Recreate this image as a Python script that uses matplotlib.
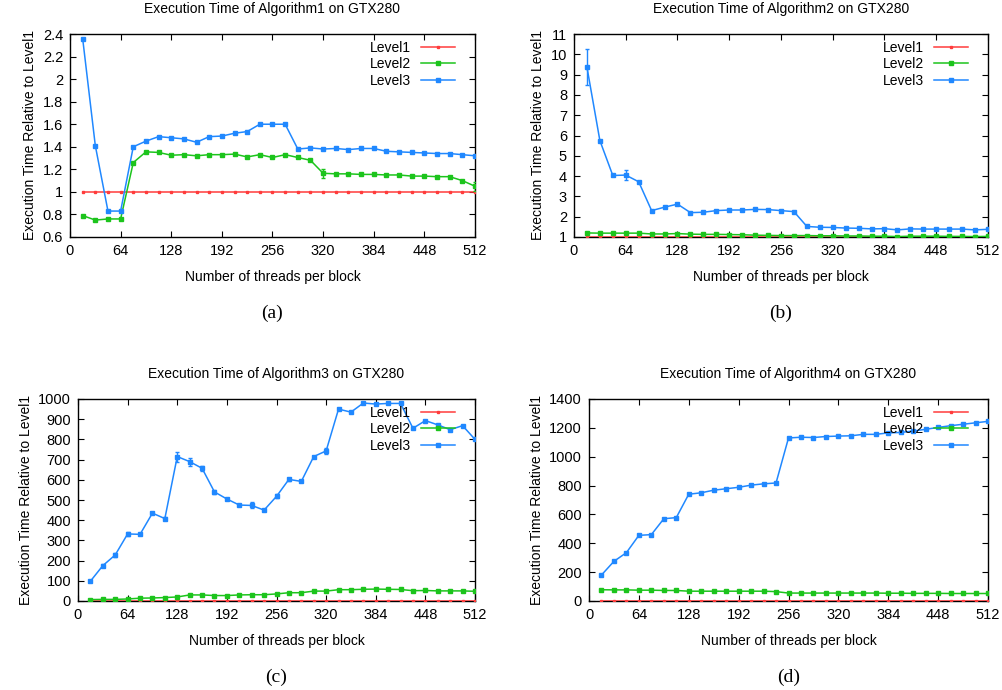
import numpy as np
import matplotlib
matplotlib.use("Agg")
import matplotlib.pyplot as plt

threads = list(range(16, 513, 16))

# Algorithm 1
a1_l1 = [1.0] * 32
a1_l2 = [0.79, 0.75, 0.76, 0.76, 1.26, 1.355, 1.35, 1.325, 1.33, 1.32, 1.33, 1.33,
         1.335, 1.31, 1.33, 1.305, 1.33, 1.305, 1.28, 1.165, 1.16, 1.16, 1.155, 1.155,
         1.15, 1.15, 1.14, 1.14, 1.135, 1.135, 1.10, 1.05]
a1_l3 = [2.36, 1.41, 0.83, 0.83, 1.40, 1.45, 1.49, 1.48, 1.47, 1.44, 1.49, 1.495,
         1.52, 1.535, 1.60, 1.60, 1.60, 1.38, 1.39, 1.38, 1.385, 1.375, 1.385, 1.385,
         1.36, 1.355, 1.35, 1.345, 1.34, 1.34, 1.33, 1.32]
a1_l2_err = [0] * 19 + [0.04] + [0] * 11 + [0.04]
a1_l3_err = [0] * 32

# Algorithm 2
a2_l1 = [1.0] * 32
a2_l2 = [1.2, 1.19, 1.19, 1.19, 1.19, 1.15, 1.15, 1.17, 1.14, 1.13, 1.13, 1.12,
         1.11, 1.09, 1.08, 1.07, 1.07, 1.07, 1.06, 1.06, 1.05, 1.05, 1.04, 1.04,
         1.02, 1.04, 1.04, 1.04, 1.03, 1.03, 1.02, 1.03]
a2_l3 = [9.37, 5.75, 4.03, 4.05, 3.72, 2.3, 2.47, 2.62, 2.2, 2.22, 2.3, 2.33,
         2.33, 2.36, 2.35, 2.3, 2.25, 1.52, 1.48, 1.47, 1.44, 1.43, 1.4, 1.41,
         1.35, 1.4, 1.39, 1.39, 1.39, 1.39, 1.35, 1.38]
a2_l2_err = [0] * 27 + [0.08] + [0] * 2 + [0.1] + [0]
a2_l3_err = [0.9, 0, 0, 0.25] + [0] * 28

# Algorithm 3
a3_l1 = [1.0] * 32
a3_l2 = [7, 8, 8, 10, 14, 15, 17, 20, 30, 30, 27, 27, 30, 31, 31, 35, 41, 41,
         49, 49, 56, 56, 58, 59, 58, 57, 51, 52, 50, 50, 50, 48]
a3_l3 = [98, 175, 228, 332, 330, 435, 408, 715, 690, 657, 540, 505, 475, 473,
         450, 518, 602, 592, 715, 743, 950, 935, 980, 975, 978, 978, 855, 893,
         872, 848, 868, 800]
a3_l2_err = [0] * 32
a3_l3_err = [0, 8, 8, 12, 0, 5, 8, 25, 20, 12, 10, 5, 0, 15, 0, 10, 8, 0, 0, 15,
             0, 0, 0, 0, 0, 0, 0, 0, 0, 0, 0, 0]

# Algorithm 4
a4_l1 = [1.0] * 32
a4_l2 = [78, 77, 77, 75, 75, 73, 73, 68, 68, 68, 68, 68, 68, 68, 65, 55, 55, 55,
         55, 55, 55, 55, 55, 54, 54, 53, 53, 53, 52, 52, 52, 52]
a4_l3 = [180, 275, 335, 455, 460, 570, 578, 740, 750, 768, 778, 788, 803, 812,
         818, 1130, 1135, 1133, 1140, 1143, 1145, 1155, 1155, 1165, 1168, 1178,
         1190, 1203, 1215, 1225, 1235, 1245]
a4_l2_err = [0] * 32
a4_l3_err = [0] * 32

titles = ["Execution Time of Algorithm1 on GTX280",
          "Execution Time of Algorithm2 on GTX280",
          "Execution Time of Algorithm3 on GTX280",
          "Execution Time of Algorithm4 on GTX280"]
captions = ["(a)", "(b)", "(c)", "(d)"]
xticks = [0, 64, 128, 192, 256, 320, 384, 448, 512]
yticks = [
    [0.6, 0.8, 1, 1.2, 1.4, 1.6, 1.8, 2, 2.2, 2.4],
    list(range(1, 12)),
    list(range(0, 1001, 100)),
    list(range(0, 1401, 200)),
]
ylims = [(0.6, 2.4), (1, 11), (0, 1000), (0, 1400)]
ytick_labels = [
    ["0.6", "0.8", "1", "1.2", "1.4", "1.6", "1.8", "2", "2.2", "2.4"],
    [str(v) for v in range(1, 12)],
    [str(v) for v in range(0, 1001, 100)],
    [str(v) for v in range(0, 1401, 200)],
]

data = [
    (a1_l1, a1_l2, a1_l3, a1_l2_err, a1_l3_err),
    (a2_l1, a2_l2, a2_l3, a2_l2_err, a2_l3_err),
    (a3_l1, a3_l2, a3_l3, a3_l2_err, a3_l3_err),
    (a4_l1, a4_l2, a4_l3, a4_l2_err, a4_l3_err),
]

W, H = 1003, 690
fig = plt.figure(figsize=(W / 100, H / 100), dpi=100)
plt.rcParams['font.family'] = ['Liberation Sans', 'DejaVu Sans']

# axes boxes in pixels: left, top, right, bottom
boxes = [(70, 34, 475, 237), (574, 34, 988, 237),
         (78, 399, 475, 601), (589, 399, 988, 601)]

red = '#ff3c3c'
green = '#1cc41c'
blue = '#2088ff'

for i, (box, d) in enumerate(zip(boxes, data)):
    l, t, r, b = box
    ax = fig.add_axes([l / W, 1 - b / H, (r - l) / W, (b - t) / H])
    l1, l2, l3, e2, e3 = d
    ax.plot(threads, l1, color=red, lw=1.1, marker='s', ms=2.0, label='Level1', zorder=3)
    ax.plot(threads, l2, color=green, lw=1.1, marker='s', ms=2.6, label='Level2', zorder=3)
    ax.plot(threads, l3, color=blue, lw=1.1, marker='s', ms=2.8, label='Level3', zorder=3)
    e2a = np.array(e2, dtype=float)
    e3a = np.array(e3, dtype=float)
    m2 = e2a > 0
    m3 = e3a > 0
    if m2.any():
        ax.errorbar(np.array(threads)[m2], np.array(l2)[m2], yerr=e2a[m2], fmt='none',
                    ecolor=green, elinewidth=1.0, capsize=1.5, zorder=3)
    if m3.any():
        ax.errorbar(np.array(threads)[m3], np.array(l3)[m3], yerr=e3a[m3], fmt='none',
                    ecolor=blue, elinewidth=1.0, capsize=1.5, zorder=3)
    ax.set_xlim(0, 512)
    ax.set_ylim(*ylims[i])
    ax.set_xticks(xticks)
    ax.set_xticklabels([str(v) for v in xticks], fontsize=10.5)
    ax.set_yticks(yticks[i])
    ax.set_yticklabels(ytick_labels[i], fontsize=10.5)
    ax.tick_params(direction='in', top=True, right=True, length=4, width=0.8, pad=5)
    for s in ax.spines.values():
        s.set_linewidth(1.0)
    ax.set_title(titles[i], fontsize=10, pad=15)
    ax.set_xlabel("Number of threads per block", fontsize=10, labelpad=9)
    ax.set_ylabel("Execution Time Relative to Level1", fontsize=10, labelpad=4)
    ax_w = r - l
    ax_h = b - t
    ax.legend(loc='upper right', frameon=False, markerfirst=False, fontsize=10,
              handlelength=2.5, labelspacing=0.2, borderaxespad=0.0,
              handletextpad=0.7,
              bbox_to_anchor=(1 - 14 / ax_w, 1 - 1 / ax_h))
    ax.text(0.5, -0.335, captions[i], transform=ax.transAxes, ha='center', va='top',
            fontsize=14, family=['Liberation Serif', 'DejaVu Serif'])

fig.savefig("out.png", dpi=100)
